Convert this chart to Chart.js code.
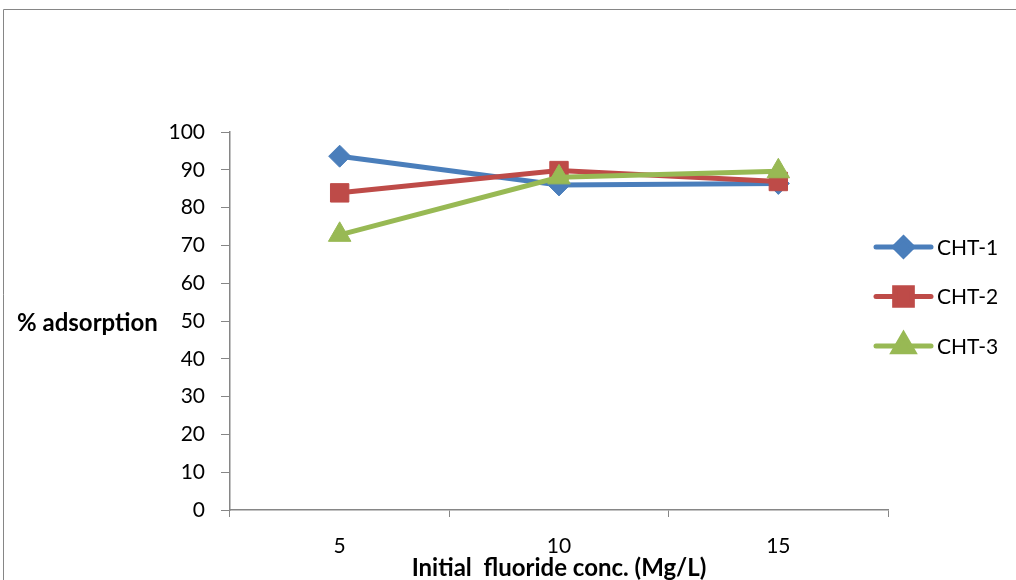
<!DOCTYPE html>
<html>
<head>
<meta charset="utf-8">
<title>% adsorption vs initial fluoride concentration</title>
<script src="https://cdn.jsdelivr.net/npm/chart.js@4"></script>
<style>
    body { margin: 0; background: #fff; }
    #wrap { width: 1016px; height: 580px; }
</style>
</head>
<body>
<div id="wrap"><canvas id="adsorption-chart" width="1016" height="580"></canvas></div>
<script>
// initial fluoride concentrations (Mg/L)
const concentrations = ['5', '10', '15'];

// % adsorption for each chitosan sample
const cht1 = [93.6, 86.0, 86.4];
const cht2 = [83.9, 89.8, 86.9];
const cht3 = [72.8, 88.0, 89.6];

const seriesNames = ['CHT-1', 'CHT-2', 'CHT-3'];
const seriesColors = ['#4A7EBB', '#BE4B48', '#98B954'];
const seriesMarkers = ['rectRot', 'rect', 'triangle'];
const markerSizes = [11, 13, 13];
const legendMarkerSizes = [9, 12.5, 11.5];

const FONT = 'Lato, "Liberation Sans", sans-serif';
const AXIS_GRAY = '#868686';

// frame around the whole figure (only top and left edges are visible)
const framePlugin = {
    id: 'frame',
    beforeDraw(chart) {
        const ctx = chart.ctx;
        ctx.save();
        ctx.strokeStyle = AXIS_GRAY;
        ctx.lineWidth = 1;
        ctx.beginPath();
        ctx.moveTo(3.5, 580);
        ctx.lineTo(3.5, 9.5);
        ctx.lineTo(1016, 9.5);
        ctx.stroke();
        ctx.restore();
    }
};

// horizontal y-axis title, written beside the tick labels
const yTitlePlugin = {
    id: 'yTitle',
    afterDraw(chart) {
        const ctx = chart.ctx;
        ctx.save();
        ctx.fillStyle = '#000';
        ctx.font = 'bold 24px ' + FONT;
        ctx.textAlign = 'left';
        ctx.textBaseline = 'middle';
        ctx.fillText('% adsorption', 17, 323);
        ctx.restore();
    }
};

// legend on the right: a short line with the series marker in the middle
const sideLegendPlugin = {
    id: 'sideLegend',
    afterDraw(chart) {
        const ctx = chart.ctx;
        const x0 = 876, x1 = 931, textX = 937;
        ctx.save();
        chart.data.datasets.forEach((ds, i) => {
            const y = 247 + i * 49.5;
            ctx.strokeStyle = ds.borderColor;
            ctx.lineWidth = 5;
            ctx.lineCap = 'round';
            ctx.beginPath();
            ctx.moveTo(x0, y);
            ctx.lineTo(x1, y);
            ctx.stroke();

            ctx.fillStyle = ds.pointBackgroundColor;
            ctx.strokeStyle = ds.pointBackgroundColor;
            Chart.helpers.drawPoint(ctx, {
                pointStyle: ds.pointStyle,
                radius: legendMarkerSizes[i],
                rotation: 0,
                borderWidth: 1
            }, (x0 + x1) / 2, y);

            ctx.fillStyle = '#000';
            ctx.font = '21px ' + FONT;
            ctx.textAlign = 'left';
            ctx.textBaseline = 'middle';
            ctx.fillText(ds.label, textX, y + 1);
        });
        ctx.restore();
    }
};

document.addEventListener('DOMContentLoaded', function() {
    const values = [cht1, cht2, cht3];

    const datasets = values.map((data, i) => ({
        label: seriesNames[i],
        data: data,
        borderColor: seriesColors[i],
        backgroundColor: seriesColors[i],
        pointBackgroundColor: seriesColors[i],
        pointBorderColor: seriesColors[i],
        pointBorderWidth: 1,
        pointStyle: seriesMarkers[i],
        pointRadius: markerSizes[i],
        pointHoverRadius: markerSizes[i],
        borderWidth: 5,
        tension: 0,
        fill: false,
        // later series sit on top of earlier ones
        order: values.length - i
    }));

    const ctx = document.getElementById('adsorption-chart').getContext('2d');
    new Chart(ctx, {
        type: 'line',
        data: {
            labels: concentrations,
            datasets: datasets
        },
        options: {
            responsive: false,
            animation: false,
            devicePixelRatio: 1,
            layout: {
                padding: { left: 0, top: 132, right: 128, bottom: 0 }
            },
            plugins: {
                legend: { display: false },
                tooltip: { enabled: false }
            },
            scales: {
                x: {
                    type: 'category',
                    offset: true,
                    grid: {
                        offset: true,
                        drawOnChartArea: false,
                        drawTicks: true,
                        tickLength: 7,
                        color: AXIS_GRAY
                    },
                    border: { color: AXIS_GRAY, width: 1.5 },
                    ticks: {
                        color: '#000',
                        padding: 17,
                        maxRotation: 0,
                        font: { family: FONT, size: 21 }
                    },
                    title: {
                        display: true,
                        text: 'Initial  fluoride conc. (Mg/L)',
                        color: '#000',
                        padding: 0,
                        font: { family: FONT, size: 24, weight: 'bold', lineHeight: 1 }
                    },
                    afterFit: scale => { scale.height = 70; }
                },
                y: {
                    min: 0,
                    max: 100,
                    ticks: {
                        stepSize: 10,
                        color: '#000',
                        padding: 16,
                        font: { family: FONT, size: 21 }
                    },
                    grid: {
                        drawOnChartArea: false,
                        drawTicks: true,
                        tickLength: 9,
                        color: AXIS_GRAY
                    },
                    border: { color: AXIS_GRAY, width: 1.5 },
                    afterFit: scale => { scale.width = 230; }
                }
            }
        },
        plugins: [framePlugin, yTitlePlugin, sideLegendPlugin]
    });
});
</script>
</body>
</html>
